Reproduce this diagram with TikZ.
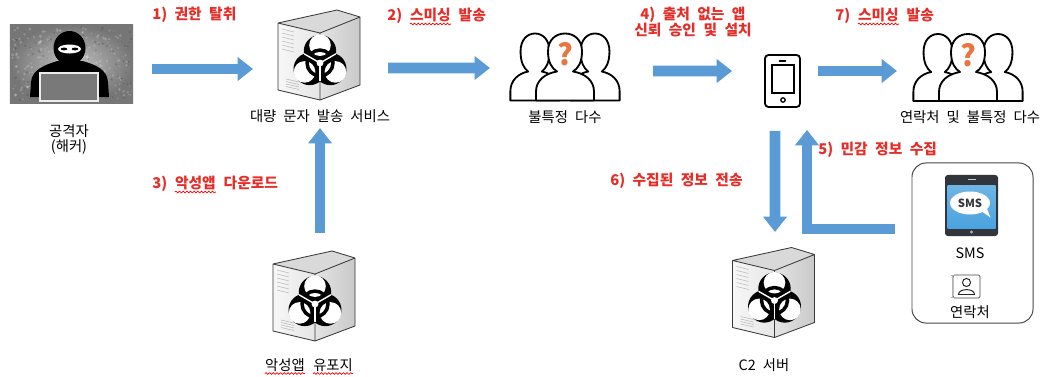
\documentclass[tikz,border=0pt]{standalone}
\usepackage{fontspec}
\setmainfont{Noto Sans CJK KR}[WordSpace=2.2]
\usetikzlibrary{arrows.meta,positioning,calc,decorations.pathmorphing}

\definecolor{flowblue}{RGB}{91,155,213}
\definecolor{stepred}{RGB}{230,45,40}
\definecolor{qmark}{RGB}{232,118,62}
\definecolor{smsblue}{RGB}{74,163,223}
\definecolor{bezel}{RGB}{50,54,60}
\definecolor{wallin}{RGB}{196,196,196}
\definecolor{wallout}{RGB}{118,118,118}

\tikzset{
  biohazard/.pic={
    \foreach \a in {270,30,150} \fill[black] (\a:11) circle (15);
    \foreach \a in {270,30,150} \fill[white] (\a:16.5) circle (10);
    \draw[black, line width=2.5pt] (0,0) circle (12);
    \foreach \a in {90,210,330} \draw[white, line width=1pt] (0,0) -- (\a:17);
    \fill[white] (0,0) circle (3.2);
  },
  server/.pic={
    \fill[gray!30] (-41,-32) -- (18,-45) -- (41,-38) -- (1,-22) -- cycle;
    \shade[left color=gray!6, right color=gray!20] (-41,-32) -- (1,-22) -- (1,45) -- (-41,35) -- cycle;
    \shade[left color=gray!22, right color=gray!42] (1,-22) -- (41,-38) -- (41,30) -- (1,45) -- cycle;
    \foreach \k in {0,...,5} \draw[gray!55, line width=0.4pt] (-37,{-26+4*\k}) -- (-25,{-23+4*\k});
    \foreach \k in {0,...,3} \draw[gray!55, line width=0.4pt] (-33,{24+2.5*\k}) -- (-20,{27+2.5*\k});
    \draw[gray!45!black, line width=0.6pt, line join=round]
      (-41,-32) -- (18,-45) -- (41,-38) -- (41,30) -- (1,45) -- (-41,35) -- cycle
      (-41,-32) -- (1,-22) -- (1,45) (1,-22) -- (41,-38);
    \pic[scale=1.08] at (1,8) {biohazard};
  },
  person/.pic={
    \filldraw[fill=white, draw=black, line width=1.3pt, line join=round]
      (-8,38) .. controls (-13,35) and (-17,29) .. (-17,18)
      .. controls (-17,6) and (-9,0) .. (0,0)
      .. controls (9,0) and (17,6) .. (17,18)
      .. controls (17,29) and (13,35) .. (8,38)
      .. controls (20,40) and (29,47) .. (29,58) -- (29,67) -- (-29,67) -- (-29,58)
      .. controls (-29,47) and (-20,40) .. (-8,38) -- cycle;
  },
  crowd/.pic={
    \pic[xscale=0.85] at (-30,-33) {person};
    \pic[xscale=0.85] at (30,-33) {person};
    \pic at (0,-33) {person};
    \node[text=qmark, inner sep=0pt, font=\fontsize{21}{21}\selectfont\bfseries] (mark) at (0,-12) {?};
  },
}

\begin{document}
\begin{tikzpicture}[x=0.025cm, y=-0.025cm,
  flow/.style={draw=flowblue, line width=7.6pt, -{Triangle[length=11pt, width=16.5pt]}},
  steplabel/.style={anchor=west, inner sep=0pt, text=stepred, font=\fontsize{10.5}{10.7}\selectfont\bfseries},
  stepword/.style={steplabel, anchor=base west},
  caption/.style={inner sep=0pt, align=center, font=\fontsize{10.2}{10.7}\selectfont},
  spot/.style={inner sep=0pt, outer sep=0pt, rectangle},
  spell/.style={draw=red, line width=0.5pt, decorate, decoration={snake, amplitude=0.6pt, segment length=2.6pt}},
  ]
  \useasboundingbox[fill=white] (0,0) rectangle (1052,376);

  %nodes
  \node[spot, minimum width=3.075cm, minimum height=1.95cm, inner color=wallin, outer color=wallout] (hacker) at (71.5,64) {};
  \begin{scope}[shift={(hacker.center)}]
    \pgfmathsetseed{11}
    \foreach \i in {1,...,260}
      \fill[white, opacity=0.2] (rand*60,rand*37) circle (0.4+rnd*1.4);
    \foreach \i in {1,...,160}
      \fill[black, opacity=0.15] (rand*60,rand*37) circle (0.3+rnd*1.1);
    % hooded figure behind a laptop
    \fill[black] (-41.5,33) -- (-40.5,18) .. controls (-39.5,6) and (-27.5,1) .. (-14,-3)
      -- (11,-3) .. controls (25.5,1) and (35.5,6) .. (36.5,18) -- (37.5,33) -- cycle;
    \fill[black] (-2,-16) ellipse (16 and 17);
    \fill[white] (-2,-15) ellipse (11.5 and 4.5);
    \fill[black] (-7.5,-15) ellipse (3.5 and 1.4) (3.5,-15) ellipse (3.5 and 1.4);
    \filldraw[fill=gray!95!black, draw=gray!15, line width=1.2pt] (-31.5,9) rectangle (26.5,37);
  \end{scope}
  \node[caption] (hackercap) at (69,139.5) {공격자\\(해커)};

  \node[spot, minimum width=2.05cm, minimum height=2.25cm] (bulk) at (319,55) {};
  \pic at (bulk) {server};
  \node[caption] (bulkcap) at (320,116) {대량 문자 발송 서비스};

  \node[spot, minimum width=2.05cm, minimum height=2.25cm] (drop) at (314,296) {};
  \pic at (drop) {server};
  \node[caption, anchor=base east] (dropcap) at (305,370) {악성앱};
  \node[caption, anchor=base west] (dropcap2) at (313,370) {유포지};
  \draw[spell] ($(dropcap.base west)+(0,3.5)$) -- ($(dropcap.base east)+(0,3.5)$);
  \draw[spell] ($(dropcap2.base west)+(0,3.5)$) -- ($(dropcap2.base east)+(0,3.5)$);

  \node[spot, minimum width=2.05cm, minimum height=2.25cm] (c2) at (773.5,292.5) {};
  \pic at (c2) {server};
  \node[caption] (c2cap) at (764,365) {C2 서버};

  \node[spot, minimum width=2.825cm, minimum height=1.675cm] (unknown) at (565,66.5) {};
  \pic at (unknown) {crowd};
  \node[caption] (unknowncap) at (565,117) {불특정 다수};

  \node[spot, minimum width=2.825cm, minimum height=1.675cm] (contacts) at (968,67) {};
  \pic at (contacts) {crowd};
  \node[caption] (contactscap) at (970,117) {연락처 및 불특정 다수};

  \node[draw=black, line width=1.3pt, rounded corners=2.5pt, minimum width=0.875cm, minimum height=1.3cm, inner sep=0pt] (phone) at (782.5,81) {};
  \begin{scope}[shift={(phone.center)}]
    \draw[line width=1.1pt] (-10.5,-16) rectangle (11.5,12);
    \draw[line width=1.3pt, line cap=round] (-3,-20) -- (3,-20);
    \draw[line width=0.9pt] (0.5,19) circle (2.2);
  \end{scope}

  % stolen data
  \node[draw=gray!55!black, line width=0.7pt, rounded corners=10pt, minimum width=3.025cm, minimum height=4cm, inner sep=0pt] (leak) at (972.5,243) {};
  \node[fill=bezel, rounded corners=2pt, minimum width=1.325cm, minimum height=1.525cm, inner sep=0pt] (smsphone) at (971.5,205.5) {};
  \begin{scope}[shift={(smsphone.center)}]
    \shade[top color=smsblue!80!white, bottom color=smsblue] (-24,-20.5) rectangle (24,22.5);
    \fill[white] (-1.5,-2.5) ellipse (20 and 11.5);
    \fill[white] (9,5) -- (19,12) -- (15,2) -- cycle;
    \node[inner sep=0pt, text=bezel, font=\fontsize{8}{8}\selectfont\bfseries] (smstext) at (-1.5,-2.5) {SMS};
    \fill[gray!40] (-4,-26.5) rectangle (4,-25.5);
    \fill[gray!60] (0,26.5) circle (1.6);
  \end{scope}
  \node[caption] (smscap) at (970,253) {SMS};
  \node[draw=gray!55!black, line width=0.6pt, rounded corners=1pt, minimum width=0.675cm, minimum height=0.575cm, inner sep=0pt] (contact) at (966.5,286.5) {};
  \begin{scope}[shift={(contact.center)}]
    \draw[gray!60, line width=0.5pt] (-16,-11) -- (-11,-11) (-16,11) -- (-11,11) (-14,-11) -- (-14,11);
    \draw[gray!30!black, line width=0.7pt] (0,-4) circle (4);
    \draw[gray!30!black, line width=0.7pt] (-8,8) .. controls (-8,1.5) and (8,1.5) .. (8,8) -- cycle;
  \end{scope}
  \node[caption] (contactcap) at (970,312) {연락처};

  % step labels
  \node[steplabel] (s1) at (152,15) {1) 권한 탈취};
  \node[stepword] (s2) at (387,20.5) {2)};
  \node[stepword] (s2word) at ([xshift=5.2pt]s2.base east) {스미싱};
  \node[stepword] (s2rest) at ([xshift=5.2pt]s2word.base east) {발송};
  \node[stepword] (s3) at (152,188.5) {3)};
  \node[stepword] (s3word) at ([xshift=5.2pt]s3.base east) {악성앱};
  \node[stepword] (s3rest) at ([xshift=5.2pt]s3word.base east) {다운로드};
  \node[steplabel, anchor=center, align=center] (s4) at (693,22) {4) 출처 없는 앱\\신뢰 승인 및 설치};
  \node[steplabel] (s5) at (818,150) {5) 민감 정보 수집};
  \node[steplabel] (s6) at (610,181) {6) 수집된 정보 전송};
  \node[stepword] (s7) at (835,20.5) {7)};
  \node[stepword] (s7word) at ([xshift=5.2pt]s7.base east) {스미싱};
  \node[stepword] (s7rest) at ([xshift=5.2pt]s7word.base east) {발송};
  \foreach \w in {s2word,s3word,s7word}
    \draw[spell] ($(\w.base west)+(0,3.5)$) -- ($(\w.base east)+(0,3.5)$);

  % arrows
  \draw[flow] ($(hacker.east)+(19,5)$) -- ($(bulk.west)+(-25,14)$);
  \draw[flow] ($(bulk.east)+(28,13)$) -- ($(unknown.west)+(-18.5,1.5)$);
  \draw[flow] ($(drop.north)+(6,-18)$) -- ($(bulk.south)+(1,28)$);
  \draw[flow] ($(unknown.east)+(31.5,4.5)$) -- ($(phone.west)+(-32,-10)$);
  \coordinate (tap) at ($(leak.west)+(-17,-14)$);
  \draw[flow] (tap) -| ($(phone.south)+(24.5,22)$);
  \draw[flow] ($(phone.south)+(-7.5,23)$) -- ($(c2.north)+(1.5,-15.5)$);
  \draw[flow] ($(phone.east)+(17,-10)$) -- ($(contacts.west)+(-14.5,4)$);
\end{tikzpicture}
\end{document}
